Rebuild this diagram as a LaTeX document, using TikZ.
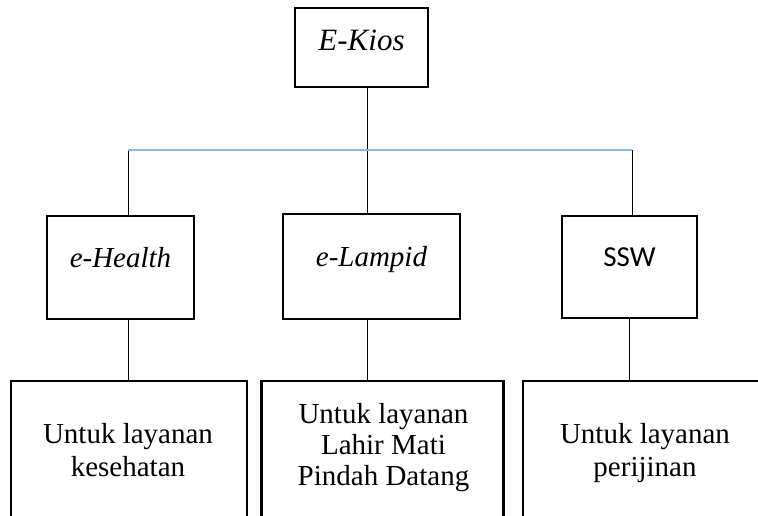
\documentclass[tikz,border=0pt]{standalone}
\usepackage{fontspec}
\usepackage{tikz}
\usepackage{xcolor}
\setmainfont{Liberation Serif}
\newfontfamily\sswfont{Carlito}
\definecolor{barblue}{RGB}{141,180,226}

\begin{document}
\begin{tikzpicture}[x=1pt,y=-1pt,
		box/.style={draw, line width=2.5pt, inner sep=0pt, font=\fontsize{29}{31}\selectfont},
		lowtext/.style={align=center, inner sep=0pt, font=\fontsize{29}{31}\selectfont},
		link/.style={line width=1pt},
		bar/.style={line width=2pt, draw=barblue}]
	\useasboundingbox (0,0) rectangle (758,515);
	\clip (0,0) rectangle (758,515);
	
	\node[box, font=\fontsize{31}{33}\selectfont, minimum width=133pt, text height=42pt, text depth=37pt] (kios) at (361.5,47.5) {\textit{E-Kios}};
	
	\coordinate (barL) at (128,150);
	\coordinate (barM) at (367,150);
	\coordinate (barR) at (632,150);
	
	\node[box, minimum width=147pt, text height=51pt, text depth=52pt] (health) at (120.5,267.5) {\textit{e-Health}};
	\node[box, minimum width=177pt, text height=52pt, text depth=53pt] (lampid) at (371.5,266.5) {\textit{e-Lampid}};
	\node[box, minimum width=135pt, text height=50pt, text depth=52pt] (ssw) at (629.5,267) {\sswfont SSW};
	
	\node[box, minimum width=236pt, minimum height=150pt] (kes) at (129,456) {};
	\node[box, minimum width=242pt, minimum height=150pt] (lahir) at (382.5,456) {};
	\node[box, minimum width=244pt, minimum height=150pt] (izin) at (645,456) {};
	
	\node[lowtext, font=\fontsize{29}{33}\selectfont, anchor=base] (kestext) at (128,476) {Untuk layanan\\kesehatan};
	\node[lowtext, anchor=base] (lahirtext) at (383.5,485) {Untuk layanan\\Lahir Mati\\Pindah Datang};
	\node[lowtext, font=\fontsize{29}{33}\selectfont, anchor=base] (izintext) at (645,476) {Untuk layanan\\perijinan};
	
	% garis penghubung
	\draw[link] (kios.south -| barM) -- (barM);
	\draw[link] (barL) -- (barL |- health.north);
	\draw[link] (barM) -- (barM |- lampid.north);
	\draw[link] (barR) -- (barR |- ssw.north);
	\draw[bar] (barL) -- (barR);
	
	\draw[link] (barL |- health.south) -- (barL |- kes.north);
	\draw[link] (barM |- lampid.south) -- (barM |- lahir.north);
	\draw[link] ([xshift=-3pt]barR |- ssw.south) -- ([xshift=-3pt]barR |- izin.north);
\end{tikzpicture}
\end{document}
